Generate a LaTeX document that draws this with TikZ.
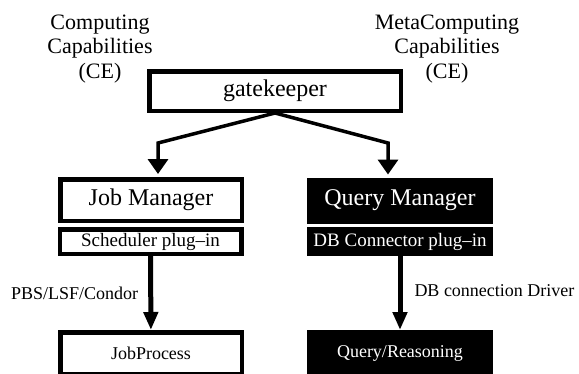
\documentclass[tikz,border=0pt]{standalone}
\usepackage{fontspec}
\setmainfont{Liberation Serif}
\usetikzlibrary{arrows.meta}
\tikzset{
  box/.style={draw, line width=4.5pt, inner sep=0pt, minimum width=181.5pt, minimum height=41.5pt, font=\fontsize{24}{26}\selectfont},
  plugbox/.style={box, minimum height=24.5pt, font=\fontsize{19}{21}\selectfont},
  procbox/.style={box, font=\fontsize{18}{20}\selectfont},
  darkbox/.style={fill=black, text=white},
  caption/.style={align=center, anchor=north, inner sep=0pt, font=\fontsize{22}{24.5}\selectfont},
  fork/.style={line width=3.5pt, -{Triangle[length=15pt,width=20pt]}},
  flow/.style={line width=5pt, -{Triangle[length=18pt,width=14pt]}},
  flowlabel/.style={inner sep=0pt, font=\fontsize{18}{20}\selectfont}
}
\begin{document}
\begin{tikzpicture}[x=1pt, y=-1pt]
    \useasboundingbox (0,0) rectangle (579,373);
    \node [caption] (compcap) at (100,14.3) {Computing\\Capabilities\\(CE)};
    \node [caption] (metacap) at (447,14.3) {MetaComputing\\Capabilities\\(CE)};
    \node [box, minimum width=251.5pt, minimum height=39.5pt] (gatekeeper) at (275,91) {gatekeeper};
    \node [box] (jobmgr) at (151,200) {Job Manager};
    \node [plugbox] (schedplug) at (150.5,241.5) {Scheduler plug--in};
    \node [procbox] (jobproc) at (151,353) {JobProcess};
    \node [box, darkbox] (querymgr) at (400,200.5) {Query Manager};
    \node [plugbox, darkbox] (dbplug) at (400,241.5) {DB Connector plug--in};
    \node [procbox, darkbox] (queryreason) at (400,353) {Query/Reasoning};
    \coordinate (splitL) at (158,143);
    \coordinate (splitR) at (388,143);
    \draw [fork, shorten >=3pt] (gatekeeper.south) -- (splitL) -- (splitL |- jobmgr.north);
    \draw [fork, shorten >=3pt] (gatekeeper.south) -- (splitR) -- (splitR |- querymgr.north);
    \draw [flow] (schedplug) -- node [flowlabel, left=10pt] {PBS/LSF/Condor} (jobproc);
    \draw [flow] (dbplug) -- node [flowlabel, right=12pt, yshift=2pt] {DB connection Driver} (queryreason);
\end{tikzpicture}
\end{document}
